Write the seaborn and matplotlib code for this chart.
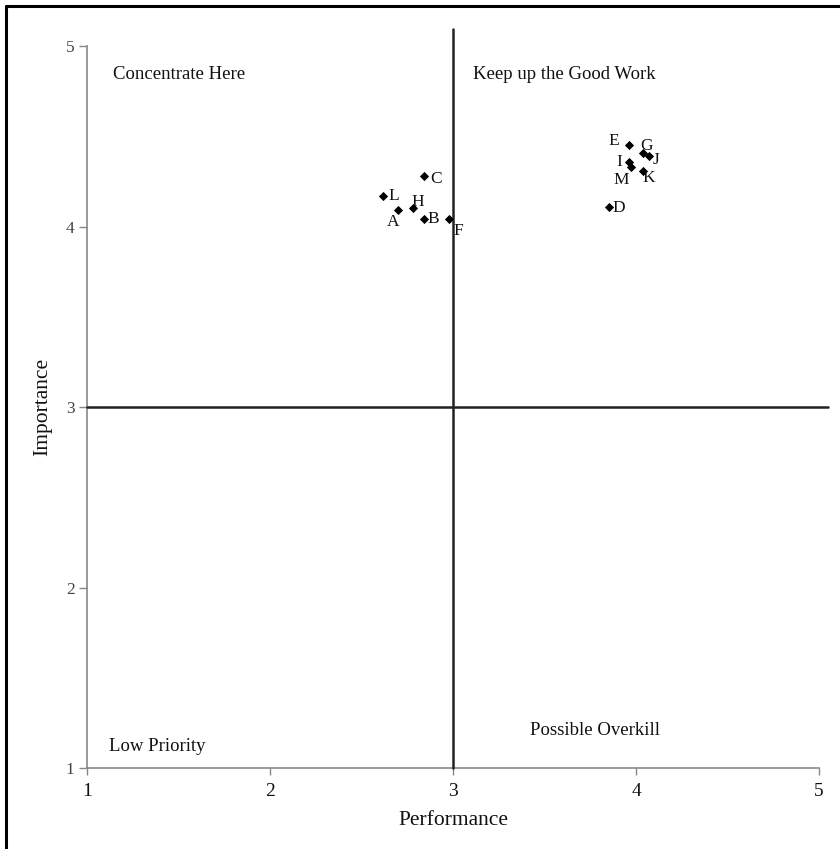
import pandas as pd
import seaborn as sns
import matplotlib.pyplot as plt
from matplotlib.lines import Line2D

# importance-performance grid, values
labels = ['A', 'B', 'C', 'D', 'E', 'F', 'G', 'H', 'I', 'J', 'K', 'L', 'M']
performance = [2.70, 2.84, 2.84, 3.85, 3.96, 2.98, 4.04, 2.78, 3.96, 4.07, 4.04, 2.62, 3.97]
importance = [4.09, 4.04, 4.28, 4.11, 4.45, 4.04, 4.41, 4.10, 4.36, 4.39, 4.31, 4.17, 4.33]

quadrants = ['Concentrate Here', 'Keep up the Good Work', 'Low Priority', 'Possible Overkill']
ticks = [1, 2, 3, 4, 5]

df = pd.DataFrame({'label': labels, 'Performance': performance, 'Importance': importance})

sns.set_style('white')
plt.rcParams['font.family'] = ['Liberation Serif', 'DejaVu Serif']

fig = plt.figure(figsize=(8.4, 8.49), dpi=100)
ax = fig.add_axes([0.1036, 0.0954, 0.8714, 0.8504])

sns.scatterplot(data=df, x='Performance', y='Importance', marker='D',
                color='black', s=22, edgecolor='black', linewidth=0, ax=ax, zorder=5)

# label offsets in pixels (dx, dy up)
offs = {'A': (-5, -12), 'B': (10, 0), 'C': (12, -3), 'D': (10, -1), 'E': (-15, 4),
        'F': (9, -12), 'G': (3, 7), 'H': (5, 6), 'I': (-9, 0), 'J': (7, -4),
        'K': (5, -7), 'L': (10, 0), 'M': (-9, -13)}
for _, r in df.iterrows():
    dx, dy = offs[r['label']]
    ax.annotate(r['label'], (r['Performance'], r['Importance']), xytext=(dx, dy),
                textcoords='offset pixels', ha='center', va='center', fontsize=12.5,
                color='#111111', zorder=6)

# quadrant lines
ax.plot([3, 3], [1, 5.094], color='#222222', lw=1.8, clip_on=False, zorder=3)
ax.plot([1, 5.049], [3, 3], color='#222222', lw=1.8, clip_on=False, zorder=3)

# quadrant captions
ax.text(1.14, 4.84, quadrants[0], fontsize=13.5, va='center', ha='left', color='#111111')
ax.text(3.11, 4.84, quadrants[1], fontsize=13.5, va='center', ha='left', color='#111111')
ax.text(1.12, 1.12, quadrants[2], fontsize=13.5, va='center', ha='left', color='#111111')
ax.text(3.42, 1.21, quadrants[3], fontsize=13.5, va='center', ha='left', color='#111111')

ax.set_xlim(1, 5)
ax.set_ylim(1, 5)
ax.set_xticks(ticks)
ax.set_yticks(ticks)
ax.tick_params(axis='x', direction='out', length=5, width=1, color='#888888',
               labelsize=14, labelcolor='#111111', pad=6)
ax.tick_params(axis='y', direction='out', length=6, width=1, color='#888888',
               labelsize=12.5, labelcolor='#444444', pad=3)
ax.tick_params(bottom=True, left=True)
for s in ['top', 'right']:
    ax.spines[s].set_visible(False)
for s in ['left', 'bottom']:
    ax.spines[s].set_color('#888888')
    ax.spines[s].set_linewidth(1.2)

ax.set_xlabel('Performance', fontsize=15.5, color='#111111', labelpad=8)
ax.set_ylabel('Importance', fontsize=15.5, color='#111111', labelpad=10)

# frame on left and top of the figure
fig.add_artist(Line2D([6 / 840, 6 / 840], [0, 1 - 6 / 849], transform=fig.transFigure,
                      color='black', lw=2.2))
fig.add_artist(Line2D([6 / 840, 1], [1 - 6 / 849, 1 - 6 / 849], transform=fig.transFigure,
                      color='black', lw=2.2))

fig.savefig('out.png', dpi=100)
